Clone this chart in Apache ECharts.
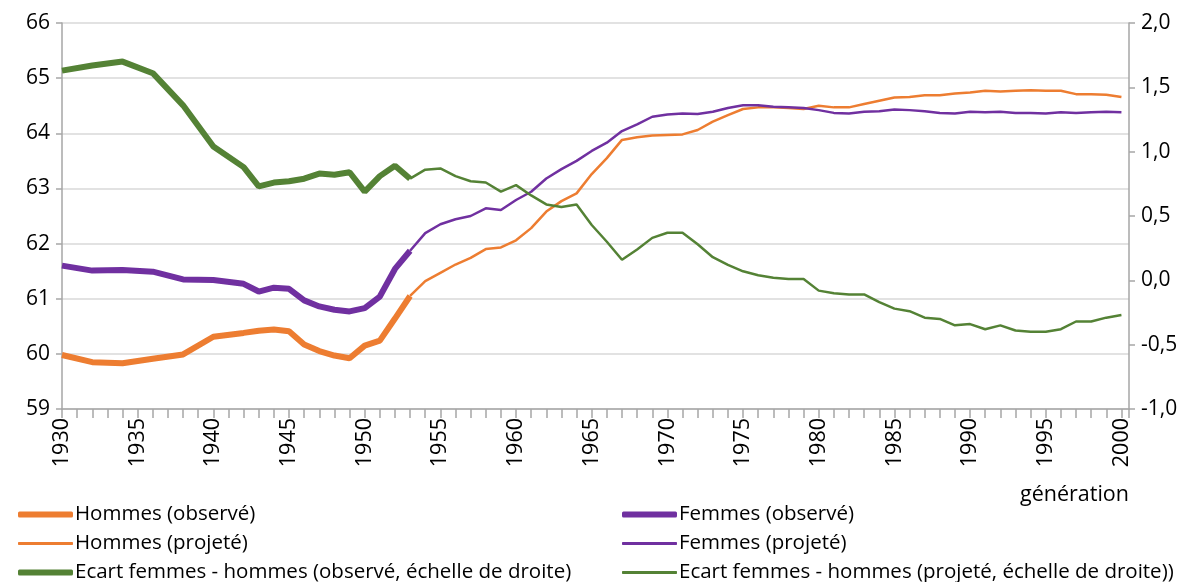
<!DOCTYPE html>
<html>
<head>
<meta charset="utf-8">
<script src="https://cdn.jsdelivr.net/npm/echarts@6/dist/echarts.min.js"></script>
<style>
  html, body { margin: 0; padding: 0; background: #fff; }
  #chart { width: 1204px; height: 582px; }
</style>
</head>
<body>
<div id="chart"></div>
<script>
// générations
const firstYear = 1930;
const projStart = 1953;

// observé, 1930-1953 (points tous les 2 ans jusqu'en 1942)
const hommesObs = [59.98, null, 59.85, null, 59.83, null, 59.91, null, 59.99, null, 60.31, null,
  60.38, 60.42, 60.44, 60.41, 60.17, 60.05, 59.97, 59.92, 60.15, 60.24, 60.64, 61.05];
const femmesObs = [61.60, null, 61.51, null, 61.52, null, 61.49, null, 61.35, null, 61.34, null,
  61.27, 61.13, 61.20, 61.18, 60.97, 60.86, 60.80, 60.77, 60.83, 61.04, 61.54, 61.87];
const ecartObs = [1.63, null, 1.67, null, 1.70, null, 1.61, null, 1.36, null, 1.04, null,
  0.88, 0.73, 0.76, 0.77, 0.79, 0.83, 0.82, 0.84, 0.69, 0.81, 0.89, 0.79];

// projeté, 1953-2000
const hommesProj = [61.05, 61.32, 61.47, 61.62, 61.74, 61.90, 61.93, 62.06, 62.28, 62.58,
  62.77, 62.91, 63.26, 63.55, 63.88, 63.93, 63.96, 63.97, 63.98, 64.06,
  64.21, 64.33, 64.44, 64.47, 64.47, 64.46, 64.44, 64.50, 64.47, 64.47,
  64.53, 64.59, 64.65, 64.66, 64.69, 64.69, 64.72, 64.74, 64.77, 64.76,
  64.77, 64.78, 64.77, 64.77, 64.71, 64.71, 64.70, 64.66];
const femmesProj = [61.87, 62.19, 62.35, 62.44, 62.50, 62.64, 62.61, 62.79, 62.94, 63.18,
  63.35, 63.50, 63.68, 63.83, 64.04, 64.16, 64.30, 64.34, 64.36, 64.35,
  64.39, 64.46, 64.51, 64.51, 64.48, 64.47, 64.46, 64.42, 64.37, 64.36,
  64.39, 64.40, 64.43, 64.42, 64.40, 64.37, 64.36, 64.39, 64.38, 64.39,
  64.37, 64.37, 64.36, 64.38, 64.37, 64.38, 64.39, 64.38];
const ecartProj = [0.79, 0.86, 0.87, 0.81, 0.77, 0.76, 0.69, 0.74, 0.66, 0.59,
  0.57, 0.59, 0.43, 0.30, 0.16, 0.24, 0.33, 0.37, 0.37, 0.28,
  0.18, 0.12, 0.07, 0.04, 0.02, 0.01, 0.01, -0.08, -0.10, -0.11,
  -0.11, -0.17, -0.22, -0.24, -0.29, -0.30, -0.35, -0.34, -0.38, -0.35,
  -0.39, -0.40, -0.40, -0.38, -0.32, -0.32, -0.29, -0.27];

const leftTicks = { min: 59, max: 66, interval: 1 };
const rightTicks = { min: -1, max: 2, interval: 0.5 };

const ORANGE = "#ED7D31";
const PURPLE = "#7030A0";
const GREEN = "#548235";
const FONT = "Open Sans";

function pairs(values, start) {
  return values.map((v, i) => [start + i, v]);
}

function lineSeries(name, values, start, color, width, yAxisIndex) {
  return {
    name: name,
    type: "line",
    yAxisIndex: yAxisIndex,
    data: pairs(values, start),
    connectNulls: true,
    symbol: "none",
    color: color,
    lineStyle: { color: color, width: width },
    z: width > 4 ? 3 : 2,
  };
}

function legendItem(name, left, top, thick) {
  return {
    data: [name],
    left: left,
    top: top,
    itemWidth: 55,
    itemHeight: thick ? 6 : 3,
    icon: "roundRect",
    itemGap: 0,
    padding: 0,
    selectedMode: false,
    textStyle: { fontFamily: FONT, fontSize: 20.5, color: "#000", padding: [0, 0, 0, -3] },
  };
}

const chart = echarts.init(document.getElementById("chart"));

chart.setOption({
  animation: false,
  backgroundColor: "#fff",
  grid: { left: 62, right: 75, top: 23, bottom: 173 },
  xAxis: {
    type: "value",
    min: firstYear,
    max: 2000.5,
    interval: 1,
    axisLine: { show: true, onZero: false, lineStyle: { color: "#A6A6A6", width: 1.5 } },
    axisTick: { show: true, length: 9, lineStyle: { color: "#A6A6A6", width: 1.5 } },
    splitLine: { show: false },
    axisLabel: {
      rotate: 90,
      margin: 9,
      fontFamily: FONT,
      fontSize: 21.5,
      color: "#000",
      formatter: (v) => (v % 5 === 0 ? String(v) : ""),
    },
  },
  yAxis: [
    {
      type: "value",
      min: leftTicks.min,
      max: leftTicks.max,
      interval: leftTicks.interval,
      axisLine: { show: true, lineStyle: { color: "#A6A6A6", width: 1.5 } },
      axisTick: { show: true, length: 6, lineStyle: { color: "#A6A6A6", width: 1.5 } },
      splitLine: { show: true, lineStyle: { color: "#D9D9D9", width: 1.5 } },
      axisLabel: { fontFamily: FONT, fontSize: 21, color: "#000", margin: 12 },
    },
    {
      type: "value",
      position: "right",
      min: rightTicks.min,
      max: rightTicks.max,
      interval: rightTicks.interval,
      axisLine: { show: true, lineStyle: { color: "#A6A6A6", width: 1.5 } },
      axisTick: { show: true, length: 6, lineStyle: { color: "#A6A6A6", width: 1.5 } },
      splitLine: { show: false },
      axisLabel: {
        fontFamily: FONT,
        fontSize: 21,
        color: "#000",
        margin: 12,
        formatter: (v) => v.toFixed(1).replace(".", ","),
      },
    },
  ],
  legend: [
    legendItem("Hommes (observé)", 18, 504, true),
    legendItem("Hommes (projeté)", 18, 533, false),
    legendItem("Ecart femmes - hommes (observé, échelle de droite)", 18, 562, true),
    legendItem("Femmes (observé)", 622, 504, true),
    legendItem("Femmes (projeté)", 622, 533, false),
    legendItem("Ecart femmes - hommes (projeté, échelle de droite))", 622, 562, false),
  ],
  graphic: [
    {
      type: "text",
      left: 1020,
      top: 484,
      style: { text: "génération", fontFamily: FONT, fontSize: 21.5, fill: "#000" },
    },
  ],
  series: [
    lineSeries("Hommes (observé)", hommesObs, firstYear, ORANGE, 6, 0),
    lineSeries("Femmes (observé)", femmesObs, firstYear, PURPLE, 6, 0),
    lineSeries("Hommes (projeté)", hommesProj, projStart, ORANGE, 2.5, 0),
    lineSeries("Femmes (projeté)", femmesProj, projStart, PURPLE, 2.5, 0),
    lineSeries("Ecart femmes - hommes (observé, échelle de droite)", ecartObs, firstYear, GREEN, 6, 1),
    lineSeries("Ecart femmes - hommes (projeté, échelle de droite))", ecartProj, projStart, GREEN, 2.5, 1),
  ],
});
</script>
</body>
</html>
